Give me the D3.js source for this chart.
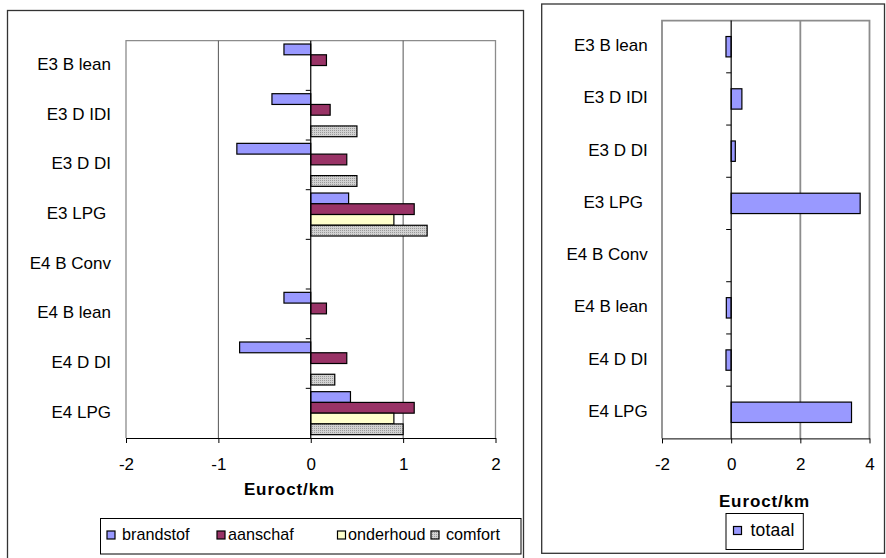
<!DOCTYPE html>
<html><head><meta charset="utf-8">
<script src="https://cdn.jsdelivr.net/npm/d3@7/dist/d3.min.js"></script>
<style>
html,body{margin:0;padding:0;background:#fff;}
svg{display:block;font-family:"Liberation Sans",Arial,sans-serif;}
text{white-space:pre;}
</style></head>
<body>
<svg id="c" width="886" height="558"></svg>
<script>
// ---- data ----
const categories = ["E3 B lean","E3 D IDI","E3 D DI","E3 LPG ","E4 B Conv","E4 B lean","E4 D DI","E4 LPG"];
const seriesNames = ["brandstof","aanschaf","onderhoud","comfort"];
const brandstof = [-0.29,-0.42,-0.80,0.41,0,-0.29,-0.77,0.43];
const aanschaf  = [0.17,0.21,0.39,1.12,0,0.17,0.39,1.12];
const onderhoud = [0,0,0,0.90,0,0,0,0.90];
const comfort   = [0,0.50,0.50,1.26,0,0,0.26,1.00];
const totaal    = [-0.15,0.31,0.12,3.73,0,-0.14,-0.15,3.48];
const leftTicks = [-2,-1,0,1,2];
const rightTicks = [-2,0,2,4];
const axisTitle = "Euroct/km";

const seriesValues = [brandstof,aanschaf,onderhoud,comfort];
const colors = {brandstof:"#9999FF",aanschaf:"#993366",onderhoud:"#FFFFCC",comfort:"url(#hatch)"};

const svg = d3.select("#c");
const defs = svg.append("defs");
const pat = defs.append("pattern").attr("id","hatch").attr("patternUnits","userSpaceOnUse")
  .attr("width",2).attr("height",2);
pat.append("rect").attr("width",2).attr("height",2).attr("fill","#d2d2d2");
pat.append("rect").attr("x",0).attr("y",0).attr("width",1).attr("height",1).attr("fill","#9a9a9a");

// ---- LEFT CHART ----
svg.append("rect").attr("x",7.5).attr("y",10.5).attr("width",516).attr("height",560)
  .attr("fill","none").attr("stroke","#333").attr("stroke-width",1.3);

const L = {x0:126,x1:495.5,y0:40.7,y1:438};
const xL = d3.scaleLinear().domain([-2,2]).range([L.x0,L.x1]);
const yL = d3.scaleBand().domain(categories).range([L.y0,L.y1]).padding(0);
const ySub = d3.scaleBand().domain(seriesNames).range([0,yL.bandwidth()]).paddingInner(0).paddingOuter(0.31);

const gL = svg.append("g");
gL.append("path").attr("d",`M${L.x0},${L.y1}V${L.y0}H${L.x1}V${L.y1}`).attr("fill","none").attr("stroke","#8c8c8c").attr("stroke-width",1.3);
gL.selectAll(".grid").data(leftTicks.filter(t=>t!==0 && t!==-2 && t!==2)).enter().append("line")
  .attr("x1",d=>xL(d)).attr("x2",d=>xL(d)).attr("y1",L.y0).attr("y2",L.y1)
  .attr("stroke","#555").attr("stroke-width",1);
const axL = gL.append("g").attr("transform",`translate(0,${L.y1})`)
  .call(d3.axisBottom(xL).tickValues(leftTicks).tickSize(5).tickSizeOuter(0).tickFormat(d3.format("d")));
axL.select(".domain").attr("stroke","#000");
axL.selectAll(".tick line").attr("stroke","#000");
axL.selectAll(".tick text").attr("font-size",17).attr("font-family","Liberation Sans, Arial, sans-serif").attr("fill","#000").attr("dy",0).attr("y",27.5).attr("dominant-baseline","middle").text(d=>d<0?"-"+Math.abs(d):d);

categories.forEach((c,i)=>{
  seriesNames.forEach((s,j)=>{
    const v = seriesValues[j][i];
    if(v===0) return;
    gL.append("rect")
      .attr("x",xL(Math.min(0,v))).attr("width",Math.abs(xL(v)-xL(0)))
      .attr("y",yL(c)+ySub(s)).attr("height",ySub.bandwidth())
      .attr("fill",colors[s]).attr("stroke","#000").attr("stroke-width",1.2);
  });
});
gL.append("line").attr("x1",xL(0)).attr("x2",xL(0)).attr("y1",L.y0).attr("y2",L.y1).attr("stroke","#000").attr("stroke-width",1.2);
gL.selectAll(".ct").data(categories.slice(1)).enter().append("line")
  .attr("x1",xL(0)-5).attr("x2",xL(0)).attr("y1",d=>yL(d)).attr("y2",d=>yL(d)).attr("stroke","#000");
gL.selectAll(".cl").data(categories).enter().append("text")
  .attr("x",111).attr("y",d=>yL(d)+yL.bandwidth()/2).attr("text-anchor","end").attr("dominant-baseline","middle")
  .attr("font-size",17).attr("fill","#000").text(d=>d);
gL.append("text").attr("x",289.5).attr("y",491).attr("text-anchor","middle").attr("dominant-baseline","middle")
  .attr("font-size",17).attr("font-weight","bold").attr("letter-spacing",0.9).text(axisTitle);
const legL = gL.append("g");
legL.append("rect").attr("x",100.5).attr("y",518.5).attr("width",420.5).attr("height",35.5).attr("fill","#fff").attr("stroke","#000").attr("stroke-width",1);
const legPos = [{sq:107,tx:122},{sq:217,tx:228},{sq:337.5,tx:348},{sq:431,tx:446}];
seriesNames.forEach((s,j)=>{
  legL.append("rect").attr("x",legPos[j].sq).attr("y",531).attr("width",8).attr("height",8)
    .attr("fill",colors[s]).attr("stroke","#000").attr("stroke-width",1.2);
  legL.append("text").attr("x",legPos[j].tx).attr("y",535.5).attr("dominant-baseline","middle")
    .attr("font-size",16.2).attr("fill","#000").text(s);
});

// ---- RIGHT CHART ----
svg.append("rect").attr("x",541.7).attr("y",4).attr("width",342.8).attr("height",549.3)
  .attr("fill","none").attr("stroke","#333").attr("stroke-width",1.3);
const R = {x0:662,x1:869.5,y0:20.6,y1:438.4};
const xR = d3.scaleLinear().domain([-2,4]).range([R.x0,R.x1]);
const yR0 = d3.scaleBand().domain(categories).range([R.y0,R.y1]).padding(0);
const yR = d3.scaleBand().domain(categories).range([R.y0,R.y1]).paddingInner(0.61).paddingOuter(0.305);
const gR = svg.append("g");
gR.append("path").attr("d",`M${R.x0},${R.y1}V${R.y0}H${R.x1}V${R.y1}`).attr("fill","none").attr("stroke","#8c8c8c").attr("stroke-width",1.8);
gR.selectAll(".grid").data([2]).enter().append("line")
  .attr("x1",d=>xR(d)).attr("x2",d=>xR(d)).attr("y1",R.y0).attr("y2",R.y1)
  .attr("stroke","#8c8c8c").attr("stroke-width",1.8);
const axR = gR.append("g").attr("transform",`translate(0,${R.y1})`)
  .call(d3.axisBottom(xR).tickValues(rightTicks).tickSize(5).tickSizeOuter(0).tickFormat(d3.format("d")));
axR.select(".domain").attr("stroke","#000");
axR.selectAll(".tick line").attr("stroke","#000");
axR.selectAll(".tick text").attr("font-size",17).attr("font-family","Liberation Sans, Arial, sans-serif").attr("fill","#000").attr("dy",0).attr("y",27.5).attr("dominant-baseline","middle").text(d=>d<0?"-"+Math.abs(d):d);
categories.forEach((c,i)=>{
  const v = totaal[i];
  if(v===0) return;
  gR.append("rect").attr("x",xR(Math.min(0,v))).attr("width",Math.abs(xR(v)-xR(0)))
    .attr("y",yR(c)).attr("height",yR.bandwidth())
    .attr("fill","#9999FF").attr("stroke","#000").attr("stroke-width",1.2);
});
gR.append("line").attr("x1",xR(0)).attr("x2",xR(0)).attr("y1",R.y0).attr("y2",R.y1).attr("stroke","#000").attr("stroke-width",1.2);
gR.selectAll(".ct").data(categories.slice(1)).enter().append("line")
  .attr("x1",xR(0)-5).attr("x2",xR(0)).attr("y1",d=>yR0(d)).attr("y2",d=>yR0(d)).attr("stroke","#000");
gR.selectAll(".cl").data(categories).enter().append("text")
  .attr("x",647.7).attr("y",d=>yR0(d)+yR0.bandwidth()/2).attr("text-anchor","end").attr("dominant-baseline","middle")
  .attr("font-size",17).attr("fill","#000").text(d=>d);
gR.append("text").attr("x",764.5).attr("y",503).attr("text-anchor","middle").attr("dominant-baseline","middle")
  .attr("font-size",17).attr("font-weight","bold").attr("letter-spacing",0.9).text(axisTitle);
const legR = gR.append("g");
legR.append("rect").attr("x",726).attr("y",513.5).attr("width",77.3).attr("height",36).attr("fill","#fff").attr("stroke","#000").attr("stroke-width",1);
legR.append("rect").attr("x",733.5).attr("y",526.5).attr("width",8).attr("height",8).attr("fill","#9999FF").attr("stroke","#000").attr("stroke-width",1.2);
legR.append("text").attr("x",750.5).attr("y",531).attr("dominant-baseline","middle").attr("font-size",17.5).attr("letter-spacing",0.2).text("totaal");
</script>
</body></html>
